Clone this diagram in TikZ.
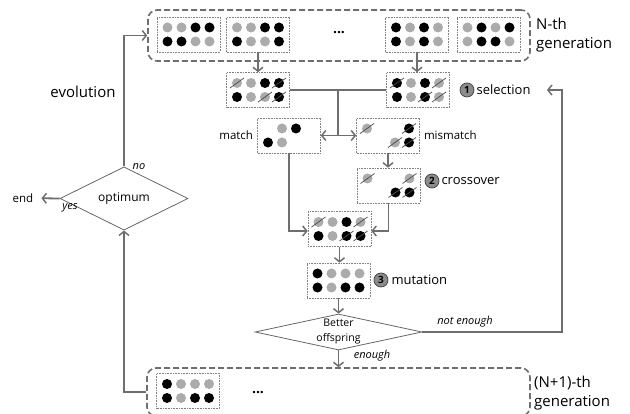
\documentclass[tikz,border=0pt]{standalone}
\usepackage{fontspec}
\setmainfont{Open Sans}
\usetikzlibrary{positioning, shapes.geometric, arrows.meta, calc}

\newcommand{\indiv}[5]{%
  \node[indbox] (#1) at (#2,#3) {};
  \foreach \s [count=\i] in {#4} \node[\s] (#1-1-\i) at ([shift={(\i*14-35,-7)}]#1.center) {};
  \foreach \s [count=\i] in {#5} \node[\s] (#1-2-\i) at ([shift={(\i*14-35,7)}]#1.center) {};
}

\begin{document}
\begin{tikzpicture}[x=1pt, y=-1pt,
  line/.style={draw=black!57, line width=1.8pt},
  flow/.style={line, -{Straight Barb[length=4pt, width=10pt, line width=1.5pt]}},
  genbox/.style={draw=black!57, line width=1.6pt, dash pattern=on 6pt off 3pt, rounded corners=9pt},
  indbox/.style={draw=black!50, densely dotted, line width=0.6pt, minimum width=63pt, minimum height=35pt, inner sep=0pt},
  dotg/.style={circle, fill=black!33, minimum size=10pt, inner sep=0pt},
  dotb/.style={circle, fill=black, minimum size=10pt, inner sep=0pt},
  dotn/.style={minimum size=10pt, inner sep=0pt},
  slashln/.style={draw=black!70, line width=0.7pt},
  slash/.style={append after command={([shift={(-7,5)}]\tikzlastnode.center) edge[slashln] ([shift={(7,-5)}]\tikzlastnode.center)}},
  dotgx/.style={dotg, slash},
  dotbx/.style={dotb, slash},
  choice/.style={diamond, draw=black!60, line width=0.8pt, inner sep=0pt},
  lbl/.style={font=\fontsize{11.5}{13}\selectfont, inner sep=1pt},
  steplbl/.style={font=\fontsize{13}{15}\selectfont, inner sep=1pt},
  genlbl/.style={font=\fontsize{15}{19}\selectfont, inner sep=1pt, align=left, anchor=west},
  ans/.style={font=\fontsize{11}{13}\selectfont\itshape, inner sep=1pt},
  numc/.style={circle, fill=black!45, draw=black!75, line width=0.7pt, minimum size=14pt, inner sep=0pt, font=\fontsize{10}{10}\selectfont\bfseries},
]
\useasboundingbox (0,0) rectangle (630,414);

\node[genbox, minimum width=382pt, minimum height=51pt] (gen1) at (339,35.5) {};
\node[genbox, minimum width=383pt, minimum height=48pt] (gen2) at (338.5,392) {};

\indiv{top1}{188.5}{34.5}{dotg,dotg,dotb,dotb}{dotb,dotb,dotg,dotg}
\indiv{top2}{258}{34.5}{dotg,dotg,dotb,dotb}{dotb,dotg,dotg,dotb}
\indiv{top3}{417}{34.5}{dotb,dotg,dotb,dotg}{dotb,dotg,dotb,dotg}
\indiv{top4}{488.5}{34.5}{dotg,dotb,dotg,dotb}{dotg,dotb,dotb,dotg}
\node[font=\fontsize{14}{14}\selectfont\bfseries] (dotsA) at (339,33) {...};

\indiv{sel1}{258}{90}{dotgx,dotg,dotb,dotbx}{dotb,dotg,dotgx,dotbx}
\indiv{sel2}{418}{90}{dotbx,dotg,dotb,dotgx}{dotb,dotg,dotbx,dotgx}
\indiv{match}{289}{135.5}{dotn,dotg,dotb,dotn}{dotb,dotg,dotn,dotn}
\indiv{mism}{388}{135.5}{dotgx,dotn,dotn,dotbx}{dotn,dotn,dotgx,dotbx}
\indiv{cross}{388.5}{185.5}{dotgx,dotn,dotn,dotgx}{dotn,dotn,dotbx,dotbx}
\indiv{comb}{339.5}{229}{dotgx,dotg,dotb,dotgx}{dotb,dotg,dotbx,dotbx}
\indiv{mut}{338.5}{280.5}{dotb,dotg,dotg,dotg}{dotb,dotg,dotb,dotb}
\indiv{bot}{188}{391}{dotb,dotg,dotg,dotg}{dotb,dotg,dotb,dotb}
\node[font=\fontsize{14}{14}\selectfont\bfseries] (dotsB) at (258,393) {...};

\node[choice, shape aspect=4.6, minimum width=167pt, minimum height=36pt, font=\fontsize{10.5}{15}\selectfont, align=center] (better) at (338.5,332) {Better\\offspring};
\node[choice, minimum width=128pt, minimum height=41pt, font=\fontsize{12}{14}\selectfont] (opt) at (124,198.5) {optimum};

\node[numc] (n1) at (467,90) {1};
\node[steplbl, right=1pt of n1] (selT) {selection};
\node[numc] (n2) at (432,181) {2};
\node[steplbl, right=1pt of n2] (crossT) {crossover};
\node[numc] (n3) at (381,280) {3};
\node[steplbl, right=2pt of n3] (mutT) {mutation};
\node[lbl, left=3pt of match] (matchT) {match};
\node[lbl, right=3pt of mism] (mismT) {mismatch};
\node[genlbl] (gen1T) at (535,35) {N-th\\generation};
\node[genlbl] (gen2T) at (533,393) {(N+1)-th\\generation};
\node[font=\fontsize{15}{17}\selectfont] (evoT) at (83,92) {evolution};
\node[lbl, inner xsep=8pt] (end) at (23,198) {end};
\node[ans] (noT) at (139,167) {no};
\node[ans] (yesT) at (70,208) {yes};
\node[ans] (notT) at (465,322) {not enough};
\node[ans] (enoughT) at (372,356) {enough};

\coordinate (split) at ($(sel1.east)!0.5!(sel2.west)$);
\coordinate (backR) at (562,90);
\coordinate (backL) at (547,90);

\draw[flow] (top2) -- (sel1);
\draw[flow] (top3.south) -- (top3.south |- sel2.north);
\draw[line] (sel1) -- (sel2);
\draw[line] (split) -- (split |- match);
\draw[flow] (split |- match) -- (match);
\draw[flow] (split |- match) -- (mism);
\draw[flow] (mism) -- (mism |- cross.north);
\draw[flow] (match.south) |- ([yshift=-2pt]comb.west);
\draw[flow] (cross.south) |- ([yshift=-2pt]comb.east);
\draw[flow] (comb) -- (comb |- mut.north);
\draw[flow] (mut) -- (better);
\draw[flow] (better.east) -| (backR) -- (backL);
\draw[flow] (better.south) -- (better.south |- gen2.north);
\draw[flow] (gen2.west) -| (opt.south);
\draw[flow] (opt.north) |- (gen1.west);
\draw[flow] (opt.west) -- (end);
\end{tikzpicture}
\end{document}
